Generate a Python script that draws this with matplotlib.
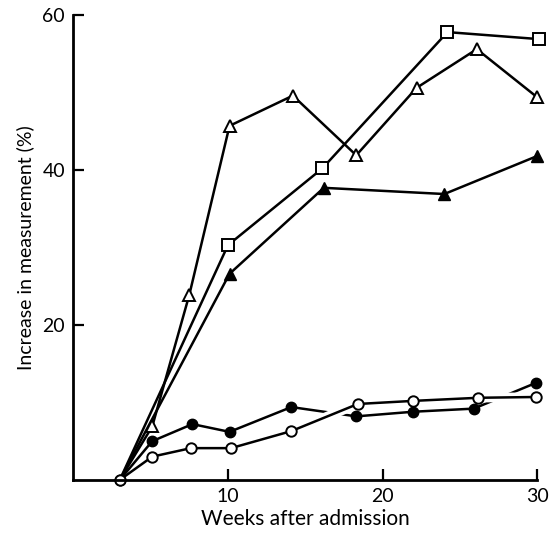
import numpy as np
import matplotlib.pyplot as plt

# values (weeks after admission, % increase)
oc_weeks = [3, 5.1, 7.6, 10.2, 14.1, 18.4, 22.0, 26.2, 29.9]
oc_vals = [0, 3.0, 4.1, 4.1, 6.3, 9.8, 10.2, 10.6, 10.7]

fc_weeks = [3, 5.1, 7.7, 10.1, 14.1, 18.3, 22.0, 25.9, 29.9]
fc_vals = [0, 5.0, 7.2, 6.2, 9.4, 8.2, 8.8, 9.2, 12.5]

ot_weeks = [3, 5.1, 7.5, 10.1, 14.2, 18.3, 22.2, 26.1, 30.0]
ot_vals = [0, 6.9, 23.9, 45.7, 49.6, 41.9, 50.6, 55.6, 49.4]

ft_weeks = [3, 10.1, 16.2, 24.0, 30.0]
ft_vals = [0, 26.6, 37.7, 36.9, 41.8]

sq_weeks = [3, 10.0, 16.1, 24.2, 30.1]
sq_vals = [0, 30.3, 40.2, 57.8, 56.9]

xticks = [10, 20, 30]
yticks = [20, 40, 60]

plt.rcParams['font.family'] = ['Lato', 'DejaVu Sans']

fig = plt.figure(figsize=(5.52, 5.38), dpi=100)
ax = fig.add_axes([0.133, 0.108, 0.840, 0.864])

lw = 1.8
common = dict(color='black', lw=lw, clip_on=False)

ax.plot(sq_weeks, sq_vals, marker='s', ms=8, mfc='white', mec='black', mew=1.4,
        markevery=list(range(1, len(sq_weeks))), zorder=2, **common)
ax.plot(ft_weeks, ft_vals, marker='^', ms=9, mfc='black', mec='black',
        markevery=list(range(1, len(ft_weeks))), zorder=2, **common)
ax.plot(ot_weeks, ot_vals, marker='^', ms=9, mfc='white', mec='black', mew=1.4,
        markevery=list(range(1, len(ot_weeks))), zorder=2.1, **common)
ax.plot(fc_weeks, fc_vals, marker='o', ms=7.5, mfc='black', mec='black', zorder=2.2, **common)
# white gap where the open-circle line crosses the filled-circle line
ax.plot(oc_weeks[4:], oc_vals[4:], color='white', lw=lw + 5, solid_capstyle='butt', zorder=2.3)
ax.plot(oc_weeks, oc_vals, marker='o', ms=7.5, mfc='white', mec='black', mew=1.4, zorder=2.4, **common)

ax.set_xlim(0, 30)
ax.set_ylim(0, 60)
ax.set_xticks(xticks)
ax.set_yticks(yticks)
ax.tick_params(direction='in', length=8, width=1.6, labelsize=14, pad=6)

for side in ['top', 'right']:
    ax.spines[side].set_visible(False)
for side in ['left', 'bottom']:
    ax.spines[side].set_linewidth(2)

ax.set_xlabel('Weeks after admission', fontsize=15, labelpad=3)
ax.set_ylabel('Increase in measurement (%)', fontsize=14, labelpad=6)

fig.savefig('out.png', dpi=100)
